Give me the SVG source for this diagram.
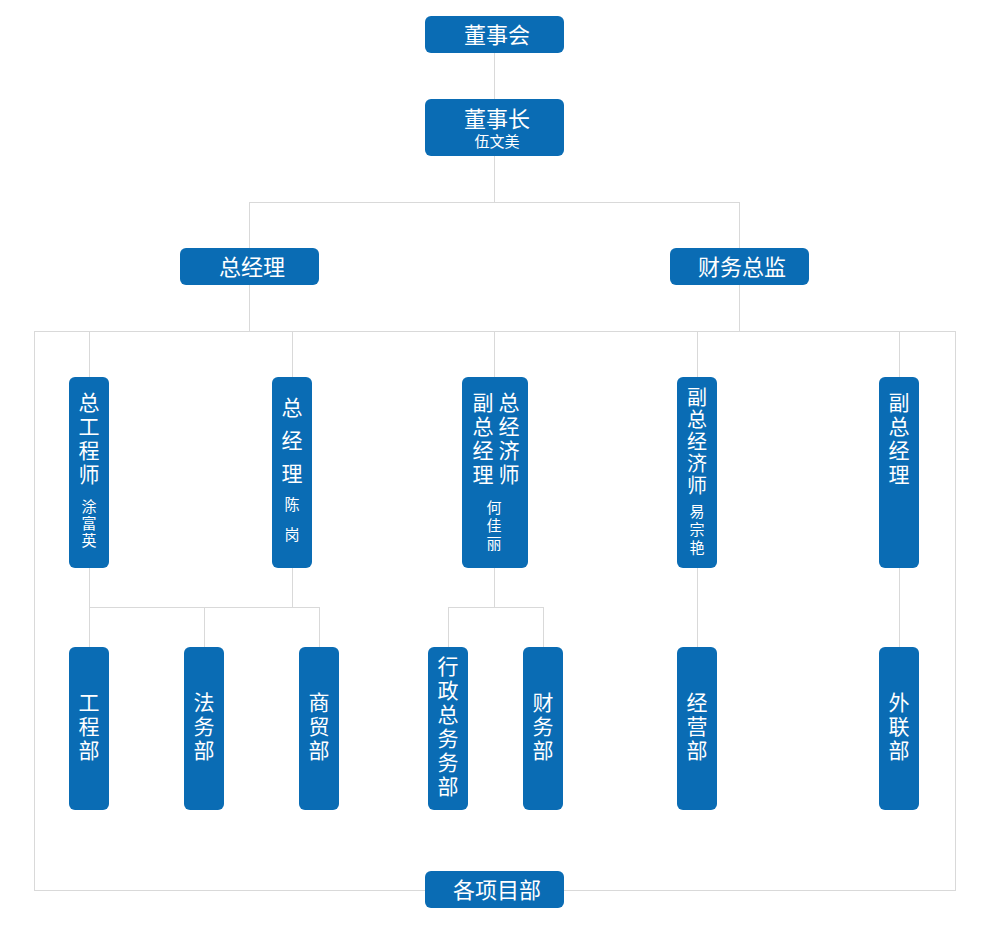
<svg xmlns="http://www.w3.org/2000/svg" width="990" height="928" viewBox="0 0 990 928">
<style>
.n{fill:#0a6cb4}
text{fill:#fff;font-family:"Noto Sans CJK SC","Noto Sans",sans-serif;text-anchor:middle;dominant-baseline:central;transform:translate(0px,-2px)}
.h{font-size:22px}
.v{font-size:21px}
.v5{font-size:20px}
.s{font-size:15px}
.c line,.c rect{stroke:#d9d9d9;stroke-width:1;fill:none}
</style>
<rect width="990" height="928" fill="#fff"/>
<g class="c">
<line x1="494.5" y1="53" x2="494.5" y2="99"/>
<line x1="494.5" y1="156" x2="494.5" y2="202"/>
<line x1="249.5" y1="202.5" x2="739.5" y2="202.5"/>
<line x1="249.5" y1="202" x2="249.5" y2="248"/>
<line x1="739.5" y1="202" x2="739.5" y2="248"/>
<line x1="249.5" y1="285" x2="249.5" y2="331"/>
<line x1="739.5" y1="285" x2="739.5" y2="331"/>
<rect x="34.5" y="331.5" width="921" height="559"/>
<line x1="89.5" y1="331" x2="89.5" y2="377"/>
<line x1="292.5" y1="331" x2="292.5" y2="377"/>
<line x1="494.5" y1="331" x2="494.5" y2="377"/>
<line x1="697.5" y1="331" x2="697.5" y2="377"/>
<line x1="899.5" y1="331" x2="899.5" y2="377"/>
<line x1="89.5" y1="568" x2="89.5" y2="647"/>
<line x1="292.5" y1="568" x2="292.5" y2="607"/>
<line x1="89.5" y1="607.5" x2="319.5" y2="607.5"/>
<line x1="204.5" y1="607" x2="204.5" y2="647"/>
<line x1="319.5" y1="607" x2="319.5" y2="647"/>
<line x1="494.5" y1="568" x2="494.5" y2="607"/>
<line x1="448.5" y1="607.5" x2="543.5" y2="607.5"/>
<line x1="448.5" y1="607" x2="448.5" y2="647"/>
<line x1="543.5" y1="607" x2="543.5" y2="647"/>
<line x1="697.5" y1="568" x2="697.5" y2="647"/>
<line x1="899.5" y1="568" x2="899.5" y2="647"/>
</g>
<g id="dongshihui"><rect class="n" x="425" y="16" width="139" height="37" rx="6"/><text class="h" x="497" y="35">董事会</text></g>
<g id="dongshizhang"><rect class="n" x="425" y="99" width="139" height="57" rx="6"/><text class="h" x="497" y="119">董事长</text><text class="s" x="497" y="142">伍文美</text></g>
<g id="zongjingli"><rect class="n" x="180" y="248" width="139" height="37" rx="6"/><text class="h" x="252" y="267">总经理</text></g>
<g id="caiwuzongjian"><rect class="n" x="670" y="248" width="139" height="37" rx="6"/><text class="h" x="742" y="267">财务总监</text></g>
<g id="zonggongchengshi"><rect class="n" x="69" y="377" width="40" height="191" rx="6"/>
<text class="v" x="89"><tspan x="89" y="403">总</tspan><tspan x="89" y="427">工</tspan><tspan x="89" y="451">程</tspan><tspan x="89" y="475">师</tspan></text>
<text class="s" x="89"><tspan x="89" y="507">涂</tspan><tspan x="89" y="524">富</tspan><tspan x="89" y="541">英</tspan></text></g>
<g id="zongjingli2"><rect class="n" x="272" y="377" width="40" height="191" rx="6"/>
<text class="v"><tspan x="292" y="408">总</tspan><tspan x="292" y="441">经</tspan><tspan x="292" y="474">理</tspan></text>
<text class="s"><tspan x="292" y="505">陈</tspan><tspan x="292" y="535">岗</tspan></text></g>
<g id="fuzong-zongjingji"><rect class="n" x="462" y="377" width="66" height="191" rx="6"/>
<text class="v"><tspan x="483" y="403">副</tspan><tspan x="483" y="427">总</tspan><tspan x="483" y="451">经</tspan><tspan x="483" y="475">理</tspan></text>
<text class="v"><tspan x="509" y="403">总</tspan><tspan x="509" y="427">经</tspan><tspan x="509" y="451">济</tspan><tspan x="509" y="475">师</tspan></text>
<text class="s"><tspan x="494" y="508">何</tspan><tspan x="494" y="526">佳</tspan><tspan x="494" y="544">丽</tspan></text></g>
<g id="fuzongjingjishi"><rect class="n" x="677" y="377" width="40" height="191" rx="6"/>
<text class="v5"><tspan x="697" y="398">副</tspan><tspan x="697" y="420">总</tspan><tspan x="697" y="442">经</tspan><tspan x="697" y="464">济</tspan><tspan x="697" y="486">师</tspan></text>
<text class="s"><tspan x="697" y="512">易</tspan><tspan x="697" y="530">宗</tspan><tspan x="697" y="548">艳</tspan></text></g>
<g id="fuzongjingli"><rect class="n" x="879" y="377" width="40" height="191" rx="6"/>
<text class="v"><tspan x="899" y="403">副</tspan><tspan x="899" y="427">总</tspan><tspan x="899" y="451">经</tspan><tspan x="899" y="475">理</tspan></text></g>
<g id="gongchengbu"><rect class="n" x="69" y="647" width="40" height="163" rx="6"/>
<text class="v"><tspan x="89" y="703">工</tspan><tspan x="89" y="727">程</tspan><tspan x="89" y="751">部</tspan></text></g>
<g id="fawubu"><rect class="n" x="184" y="647" width="40" height="163" rx="6"/>
<text class="v"><tspan x="204" y="703">法</tspan><tspan x="204" y="727">务</tspan><tspan x="204" y="751">部</tspan></text></g>
<g id="shangmaobu"><rect class="n" x="299" y="647" width="40" height="163" rx="6"/>
<text class="v"><tspan x="319" y="703">商</tspan><tspan x="319" y="727">贸</tspan><tspan x="319" y="751">部</tspan></text></g>
<g id="xingzhengbu"><rect class="n" x="428" y="647" width="40" height="163" rx="6"/>
<text class="v"><tspan x="448" y="667">行</tspan><tspan x="448" y="691">政</tspan><tspan x="448" y="715">总</tspan><tspan x="448" y="739">务</tspan><tspan x="448" y="763">务</tspan><tspan x="448" y="787">部</tspan></text></g>
<g id="caiwubu"><rect class="n" x="523" y="647" width="40" height="163" rx="6"/>
<text class="v"><tspan x="543" y="703">财</tspan><tspan x="543" y="727">务</tspan><tspan x="543" y="751">部</tspan></text></g>
<g id="jingyingbu"><rect class="n" x="677" y="647" width="40" height="163" rx="6"/>
<text class="v"><tspan x="697" y="703">经</tspan><tspan x="697" y="727">营</tspan><tspan x="697" y="751">部</tspan></text></g>
<g id="wailianbu"><rect class="n" x="879" y="647" width="40" height="163" rx="6"/>
<text class="v"><tspan x="899" y="703">外</tspan><tspan x="899" y="727">联</tspan><tspan x="899" y="751">部</tspan></text></g>
<g id="xiangmubu"><rect class="n" x="425" y="871" width="139" height="37" rx="6"/><text class="h" x="497" y="890">各项目部</text></g>
</svg>
